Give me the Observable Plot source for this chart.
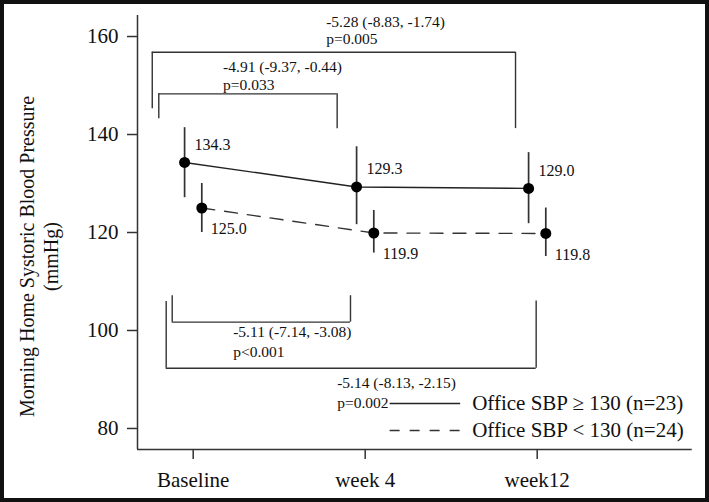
<!DOCTYPE html>
<html><head><meta charset="utf-8">
<script src="https://cdn.jsdelivr.net/npm/d3@7"></script>
<script src="https://cdn.jsdelivr.net/npm/@observablehq/plot@0.6"></script>
<style>
html,body{margin:0;padding:0;background:#fff;}
#wrap{position:relative;width:709px;height:502px;}
#border{position:absolute;left:0;top:0;width:709px;height:502px;box-sizing:border-box;border:4px solid #111;pointer-events:none;}
</style></head><body>
<div id="wrap"><div id="border"></div></div>
<script>
// ---- data ----
const timepoints = ["Baseline", "week 4", "week12"];
const highMeans = [134.3, 129.3, 129.0];
const highLo = [127.1, 121.6, 121.8];
const highHi = [141.4, 137.5, 136.3];
const lowMeans = [125.0, 119.9, 119.8];
const lowLo = [120.0, 115.8, 115.1];
const lowHi = [130.0, 124.5, 125.0];
const seriesNames = ["Office SBP \u2265 130 (n=23)", "Office SBP < 130 (n=24)"];
const yTicks = [80, 100, 120, 140, 160];
const yTitle = "Morning Home Systoric Blood Pressure\n(mmHg)";

// comparisons (change vs baseline, 95% CI, p)
const cmpEffect = ["-5.28 (-8.83, -1.74)", "-4.91 (-9.37, -0.44)", "-5.11 (-7.14, -3.08)", "-5.14 (-8.13, -2.15)"];
const cmpP = ["p=0.005", "p=0.033", "p<0.001", "p=0.002"];
// bracket geometry in data units (x: time index, y: mmHg)
const brX1 = [-0.238, -0.2, -0.122, -0.157];
const brX2 = [1.874, 0.837, 0.9145, 1.994];
const brBar = [156.8, 148.3, 101.7, 92.3];
const brLeg1 = [145.25, 143.2, 107.1, 105.9];
const brLeg2 = [141.2, 141.2, 107.1, 106.0];
const brTextX = [0.773, 0.174, 0.2326, 0.837];
const brEffectY = [162.96, 153.78, 99.6, 89.2];
const brPY = [159.39, 150.2, 95.6, 85.1];

// legend placement (data units)
const legX1 = 1.145, legX2 = 1.555, legTextX = 1.622;
const legY = [85.1, 79.6];

// ---- build ----
const xDomain = [-0.3238, 2.9012];
const yDomain = [75.71, 164.29];
const offset = 0.05;
const high = timepoints.map((t, i) => ({x: i - offset, mean: highMeans[i], lo: highLo[i], hi: highHi[i]}));
const low = timepoints.map((t, i) => ({x: i + offset, mean: lowMeans[i], lo: lowLo[i], hi: lowHi[i]}));
const rows = high.concat(low);
const brackets = cmpEffect.map((e, i) => ({effect: e, p: cmpP[i], x1: brX1[i], x2: brX2[i], bar: brBar[i], leg1: brLeg1[i], leg2: brLeg2[i], tx: brTextX[i], ey: brEffectY[i], py: brPY[i]}));
const legend = seriesNames.map((n, i) => ({name: n, y: legY[i]}));

const ink = "#111";
const chart = Plot.plot({
  width: 709, height: 502,
  marginLeft: 137, marginRight: 17.3, marginTop: 15, marginBottom: 53,
  style: {fontFamily: "'Liberation Serif', 'Times New Roman', serif", fontSize: "16px", color: "#111", background: "white"},
  x: {domain: xDomain, axis: null},
  y: {domain: yDomain, axis: null},
  marks: [
    Plot.ruleX([xDomain[0]], {stroke: "#333", strokeWidth: 1.5}),
    Plot.ruleY([yDomain[0]], {stroke: "#333", strokeWidth: 1.5}),
    Plot.axisY({ticks: yTicks, tickSize: 10, tickPadding: 9, label: null, fontSize: 21, stroke: "#333", strokeWidth: 1.5}),
    Plot.axisX({ticks: [0, 1, 2], tickFormat: i => timepoints[i], tickSize: 10, tickPadding: 13, label: null, fontSize: 21, stroke: "#333", strokeWidth: 1.5}),
    // brackets
    Plot.ruleY(brackets, {y: "bar", x1: "x1", x2: "x2", stroke: "#333", strokeWidth: 1.4}),
    Plot.ruleX(brackets, {x: "x1", y1: "bar", y2: "leg1", stroke: "#333", strokeWidth: 1.4}),
    Plot.ruleX(brackets, {x: "x2", y1: "bar", y2: "leg2", stroke: "#333", strokeWidth: 1.4}),
    Plot.text(brackets, {x: "tx", y: "ey", text: "effect", textAnchor: "start", fontSize: 15.5, fill: ink}),
    Plot.text(brackets, {x: "tx", y: "py", text: "p", textAnchor: "start", fontSize: 15.5, fill: ink}),
    // series
    Plot.line(high, {x: "x", y: "mean", stroke: "#222", strokeWidth: 1.4}),
    Plot.line(low, {x: "x", y: "mean", stroke: "#333", strokeWidth: 1.4, strokeDasharray: "13,10"}),
    Plot.ruleX(rows, {x: "x", y1: "lo", y2: "hi", stroke: "#333", strokeWidth: 1.7}),
    Plot.dot(rows, {x: "x", y: "mean", r: 5.5, fill: "#000", stroke: "none"}),
    Plot.text(high, {x: "x", y: "mean", text: d => d.mean.toFixed(1), dx: 10, dy: -18, textAnchor: "start", fontSize: 16, fill: ink}),
    Plot.text(low, {x: "x", y: "mean", text: d => d.mean.toFixed(1), dx: 9, dy: 21, textAnchor: "start", fontSize: 16, fill: ink}),
    // legend
    Plot.ruleY([legend[0]], {y: "y", x1: legX1, x2: legX2, stroke: "#222", strokeWidth: 1.4}),
    Plot.ruleY([legend[1]], {y: "y", x1: legX1, x2: legX2, stroke: "#333", strokeWidth: 1.4, strokeDasharray: "10,10"}),
    Plot.text(legend, {x: legTextX, y: "y", text: "name", textAnchor: "start", fontSize: 21, fill: ink}),
    // y title
    Plot.text([yTitle], {frameAnchor: "left", text: d => d, rotate: -90, dx: -99, dy: 24, textAnchor: "middle", lineAnchor: "middle", fontSize: 20, lineHeight: 1.2, fill: ink})
  ]
});
document.getElementById("wrap").prepend(chart);
</script>
</body></html>
